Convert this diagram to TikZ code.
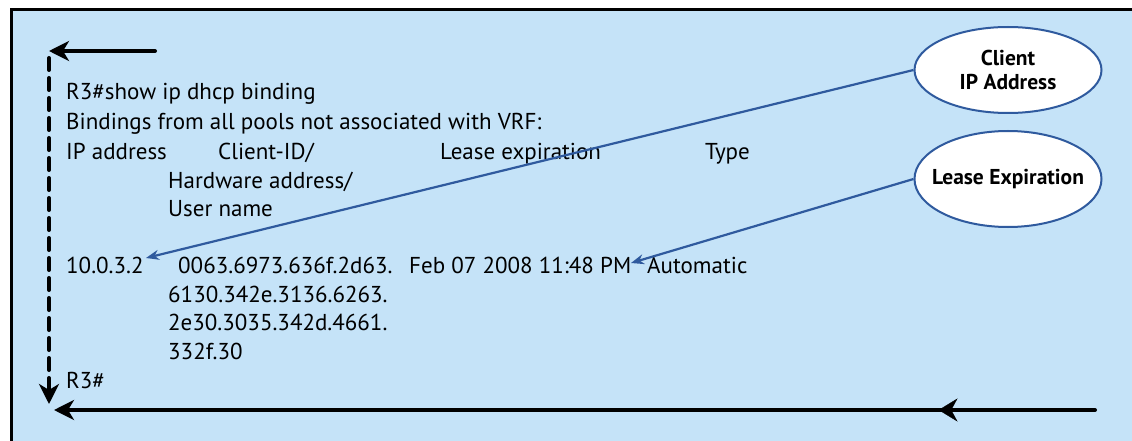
\documentclass[tikz,border=0pt]{standalone}
\usepackage{fontspec}
\setmainfont{PT Sans}
\usetikzlibrary{arrows.meta,shapes.geometric}
\definecolor{bgblue}{HTML}{C5E3F8}
\definecolor{linkblue}{HTML}{2F5A9E}
\tikzset{
  txt/.style={anchor=base west,inner sep=0pt,font=\fontsize{23}{27}\selectfont},
  callout/.style={ellipse,draw=linkblue,line width=2pt,fill=white,minimum width=187pt,minimum height=86pt,inner sep=0pt,align=center,font=\bfseries\fontsize{21.5}{24}\selectfont},
  bluearrow/.style={draw=linkblue,line width=2.2pt,-{Stealth[length=13pt,width=10pt]}},
  flow/.style={draw=black,line width=4pt,-{Stealth[length=20pt,width=20pt,inset=6pt]}},
}
\begin{document}
\begin{tikzpicture}[x=1pt,y=-1pt]
\useasboundingbox (0,0) rectangle (1132,441);
\fill[white] (0,0) rectangle (1132,441);
\draw[fill=bgblue,line width=3pt] (11,10) rectangle (1145,455);
% text
\node[txt] (l1) at (66,100) {R3\#show ip dhcp binding};
\node[txt] (l2) at (66,130) {Bindings from all pools not associated with VRF:};
\node[txt] (h1) at (66,160) {IP address};
\node[txt] (h2) at (218,160) {Client-ID/};
\node[txt] (h3) at (440,160) {Lease expiration};
\node[txt] (h4) at (705,160) {Type};
\node[txt] (h5) at (168,188) {Hardware address/};
\node[txt] (h6) at (168,216) {User name};
\node[txt] (ip) at (66,273) {10.0.3.2};
\node[txt] (cid) at (178,273) {0063.6973.636f.2d63.};
\node[txt] (lease) at (409,273) {Feb 07 2008 11:48 PM};
\node[txt] (type) at (647,273) {Automatic};
\node[txt] (c2) at (168,302) {6130.342e.3136.6263.};
\node[txt] (c3) at (168,330) {2e30.3035.342d.4661.};
\node[txt] (c4) at (168,359) {332f.30};
\node[txt] (prompt) at (66,388) {R3\#};
% callouts
\node[callout] (cip) at (1008,70) {Client\\IP Address};
\node[callout,minimum height=96pt,inner xsep=-12pt] (cle) at (1008,179) {Lease Expiration};
\coordinate (ipend) at (146,258);
\coordinate (leaseend) at (631,263);
\draw[bluearrow] (cip.west) -- (ipend);
\draw[bluearrow] (cle.west) -- (leaseend);
% flow arrows
\coordinate (tstart) at (155,51);
\coordinate (corner) at (49,51);
\coordinate (vend) at (49,404);
\coordinate (bstart) at (1095,410);
\coordinate (bend) at (54,410);
\draw[flow,line cap=round] (tstart) -- (corner);
\draw[line width=4pt,dash pattern=on 12pt off 8pt,line cap=round] (49,58) -- (49,390);
\draw[flow] (49,386) -- (vend);
\draw[flow,line cap=round] (bstart) -- (bend);
\draw[black,fill=black] (957,399) -- (939,410) -- (957,421) -- (951,410) -- cycle;
\end{tikzpicture}
\end{document}
